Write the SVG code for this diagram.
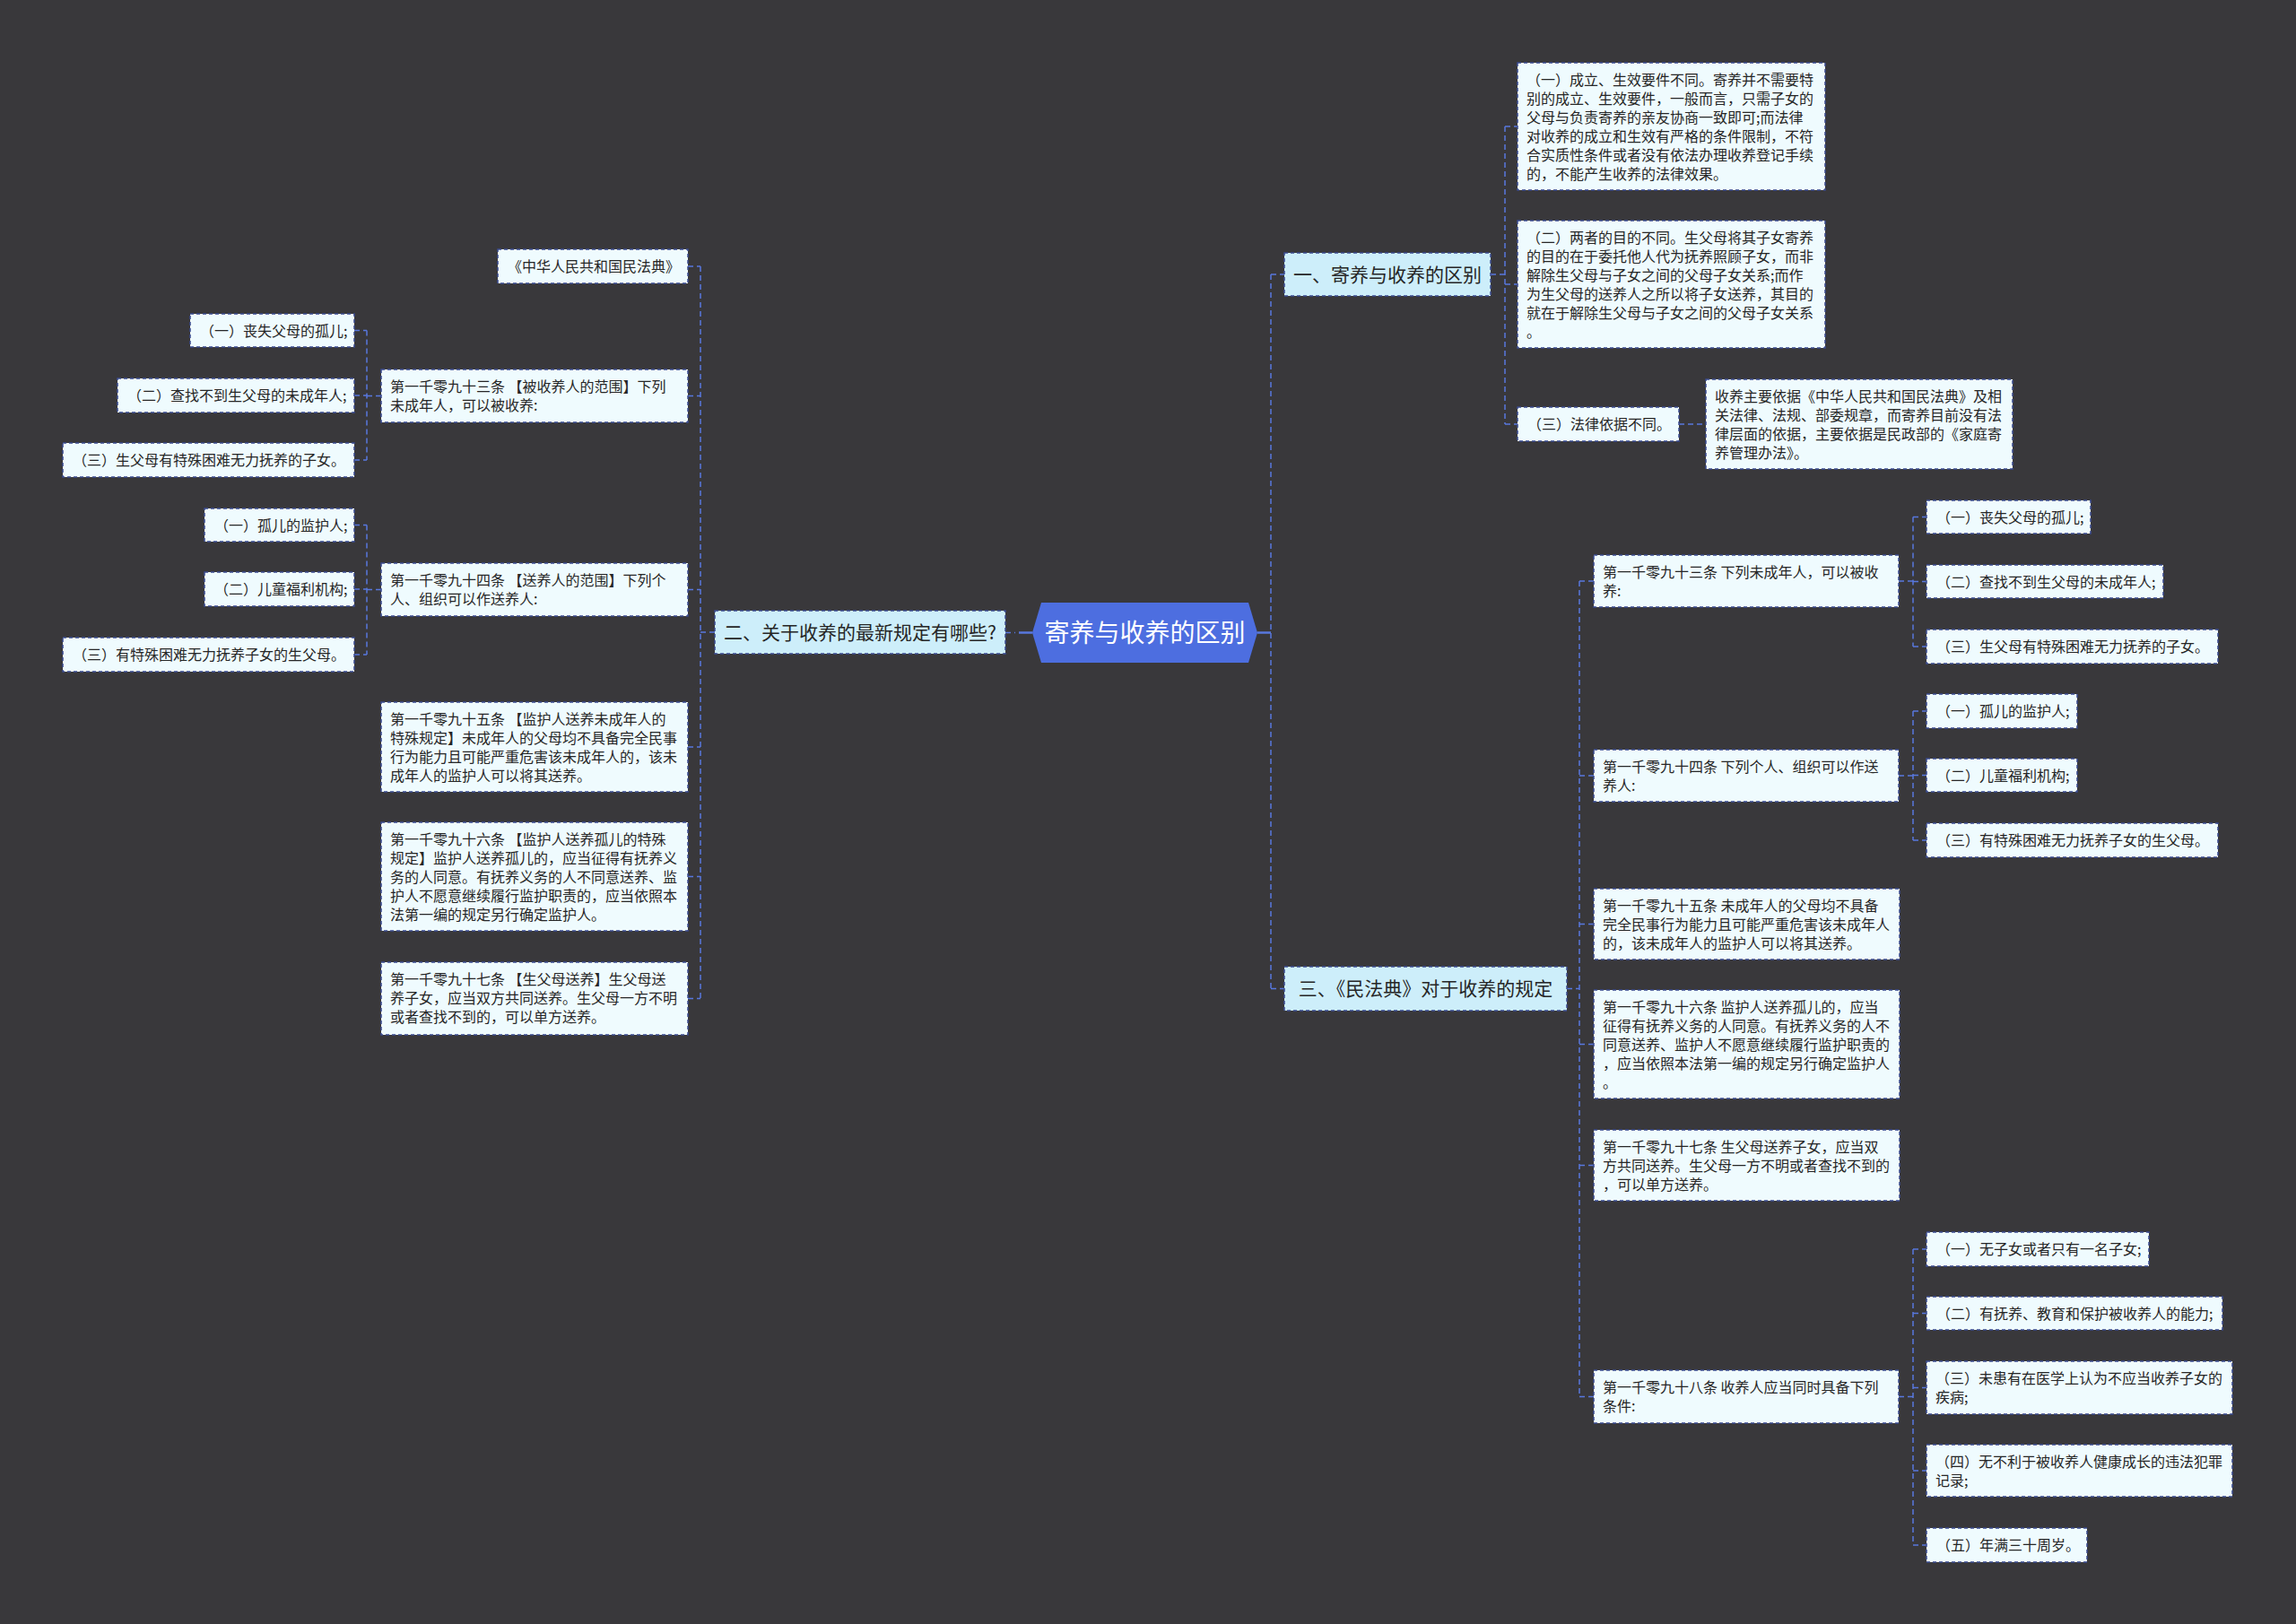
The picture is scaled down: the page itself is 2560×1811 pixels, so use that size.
<svg xmlns="http://www.w3.org/2000/svg" width="2560" height="1811" viewBox="0 0 2560 1811">
<style>
.n rect{fill:#effbfe;stroke:#3a4a8e;stroke-width:1.5;stroke-dasharray:4 3}
.l1 rect{fill:#cdeefa;stroke:#3a4a8e;stroke-width:1.5;stroke-dasharray:4 3}
text{font-family:"Noto Sans CJK SC","Noto Sans",sans-serif;fill:#262626}
.n text{font-size:16px}
.l1 text{font-size:21px;text-anchor:middle}
.c{fill:none;stroke:#5877de;stroke-width:1.5;stroke-dasharray:6 4}
.cs{fill:none;stroke:#5877de;stroke-width:2.5}
</style>
<rect x="0" y="0" width="2560" height="1811" fill="#39383b"/>

<g id="connectors">
<line class="c" x1="1121" y1="705.5" x2="1132" y2="705.5"/>
<line class="cs" x1="1136" y1="705.5" x2="1151" y2="705.5"/>
<line class="cs" x1="1402" y1="705.5" x2="1417" y2="705.5"/>
<path class="c" d="M797,705 H781 M781,297 V1113.5 M767,297 H781 M767,441.5 H781 M767,657.5 H781 M767,833 H781 M767,977.5 H781 M767,1113.5 H781"/>
<path class="c" d="M425,441.5 H409 M409,368.5 V513 M395,368.5 H409 M395,441 H409 M395,513 H409"/>
<path class="c" d="M425,657.5 H409 M409,585.5 V730 M395,585.5 H409 M395,657 H409 M395,730 H409"/>
<path class="c" d="M1417,306 V1102.5 M1417,306 H1432 M1417,1102.5 H1432"/>
<path class="c" d="M1662,306 H1678 M1678,141 V473 M1678,141 H1692 M1678,317 H1692 M1678,473 H1692"/>
<path class="c" d="M1872,473 H1902"/>
<path class="c" d="M1747,1102.5 H1761 M1761,648 V1557.5 M1761,648 H1777 M1761,865 H1777 M1761,1030.5 H1777 M1761,1164.5 H1777 M1761,1299.5 H1777 M1761,1557.5 H1777"/>
<path class="c" d="M2117,648 H2133 M2133,576.5 V721 M2133,576.5 H2148 M2133,648.5 H2148 M2133,721 H2148"/>
<path class="c" d="M2117,865 H2133 M2133,793 V937 M2133,793 H2148 M2133,864.5 H2148 M2133,937 H2148"/>
<path class="c" d="M2117,1557.5 H2133 M2133,1393 V1723 M2133,1393 H2148 M2133,1464.5 H2148 M2133,1547.5 H2148 M2133,1640 H2148 M2133,1723 H2148"/>
</g>

<g id="root">
<polygon points="1151,705.5 1161,672 1392,672 1402,705.5 1392,739 1161,739" fill="#4d6ee0"/>
<text x="1276.5" y="716" font-size="28" text-anchor="middle" style="fill:#ffffff">寄养与收养的区别</text>
</g>

<g id="n-er" class="l1"><rect x="797" y="681" width="324" height="48"/><text x="959" y="713">二、关于收养的最新规定有哪些?</text></g>
<g id="n-yi" class="l1"><rect x="1432" y="282" width="230" height="48"/><text x="1547" y="314">一、寄养与收养的区别</text></g>
<g id="n-san" class="l1"><rect x="1432" y="1078" width="315" height="49"/><text x="1589.5" y="1110">三、《民法典》对于收养的规定</text></g>

<g id="l-fd" class="n"><rect x="555" y="278" width="212" height="38"/><text x="566" y="303">《中华人民共和国民法典》</text></g>
<g id="l-1093" class="n"><rect x="425" y="412" width="342" height="59"/><text x="435"><tspan x="435" y="437">第一千零九十三条 【被收养人的范围】下列</tspan><tspan x="435" y="458">未成年人，可以被收养:</tspan></text></g>
<g id="l-1093-1" class="n"><rect x="212" y="350" width="183" height="37"/><text x="223" y="375">（一）丧失父母的孤儿;</text></g>
<g id="l-1093-2" class="n"><rect x="131" y="422" width="264" height="38"/><text x="142" y="447">（二）查找不到生父母的未成年人;</text></g>
<g id="l-1093-3" class="n"><rect x="70" y="494" width="325" height="38"/><text x="81" y="519">（三）生父母有特殊困难无力抚养的子女。</text></g>
<g id="l-1094" class="n"><rect x="425" y="628" width="342" height="59"/><text x="435"><tspan x="435" y="653">第一千零九十四条 【送养人的范围】下列个</tspan><tspan x="435" y="674">人、组织可以作送养人:</tspan></text></g>
<g id="l-1094-1" class="n"><rect x="228" y="567" width="167" height="37"/><text x="239" y="592">（一）孤儿的监护人;</text></g>
<g id="l-1094-2" class="n"><rect x="228" y="638" width="167" height="38"/><text x="239" y="663">（二）儿童福利机构;</text></g>
<g id="l-1094-3" class="n"><rect x="70" y="711" width="325" height="38"/><text x="81" y="736">（三）有特殊困难无力抚养子女的生父母。</text></g>
<g id="l-1095" class="n"><rect x="425" y="783" width="342" height="100"/><text x="435"><tspan x="435" y="808">第一千零九十五条 【监护人送养未成年人的</tspan><tspan x="435" y="829">特殊规定】未成年人的父母均不具备完全民事</tspan><tspan x="435" y="850">行为能力且可能严重危害该未成年人的，该未</tspan><tspan x="435" y="871">成年人的监护人可以将其送养。</tspan></text></g>
<g id="l-1096" class="n"><rect x="425" y="917" width="342" height="121"/><text x="435"><tspan x="435" y="942">第一千零九十六条 【监护人送养孤儿的特殊</tspan><tspan x="435" y="963">规定】监护人送养孤儿的，应当征得有抚养义</tspan><tspan x="435" y="984">务的人同意。有抚养义务的人不同意送养、监</tspan><tspan x="435" y="1005">护人不愿意继续履行监护职责的，应当依照本</tspan><tspan x="435" y="1026">法第一编的规定另行确定监护人。</tspan></text></g>
<g id="l-1097" class="n"><rect x="425" y="1073" width="342" height="81"/><text x="435"><tspan x="435" y="1098">第一千零九十七条 【生父母送养】生父母送</tspan><tspan x="435" y="1119">养子女，应当双方共同送养。生父母一方不明</tspan><tspan x="435" y="1140">或者查找不到的，可以单方送养。</tspan></text></g>

<g id="r-1" class="n"><rect x="1692" y="70" width="343" height="142"/><text x="1702"><tspan x="1702" y="95">（一）成立、生效要件不同。寄养并不需要特</tspan><tspan x="1702" y="116">别的成立、生效要件，一般而言，只需子女的</tspan><tspan x="1702" y="137">父母与负责寄养的亲友协商一致即可;而法律</tspan><tspan x="1702" y="158">对收养的成立和生效有严格的条件限制，不符</tspan><tspan x="1702" y="179">合实质性条件或者没有依法办理收养登记手续</tspan><tspan x="1702" y="200">的，不能产生收养的法律效果。</tspan></text></g>
<g id="r-2" class="n"><rect x="1692" y="246" width="343" height="142"/><text x="1702"><tspan x="1702" y="271">（二）两者的目的不同。生父母将其子女寄养</tspan><tspan x="1702" y="292">的目的在于委托他人代为抚养照顾子女，而非</tspan><tspan x="1702" y="313">解除生父母与子女之间的父母子女关系;而作</tspan><tspan x="1702" y="334">为生父母的送养人之所以将子女送养，其目的</tspan><tspan x="1702" y="355">就在于解除生父母与子女之间的父母子女关系</tspan><tspan x="1702" y="376">。</tspan></text></g>
<g id="r-3" class="n"><rect x="1692" y="454" width="180" height="38"/><text x="1703" y="479">（三）法律依据不同。</text></g>
<g id="r-3-1" class="n"><rect x="1902" y="423" width="342" height="100"/><text x="1912"><tspan x="1912" y="448">收养主要依据《中华人民共和国民法典》及相</tspan><tspan x="1912" y="469">关法律、法规、部委规章，而寄养目前没有法</tspan><tspan x="1912" y="490">律层面的依据，主要依据是民政部的《家庭寄</tspan><tspan x="1912" y="511">养管理办法》。</tspan></text></g>

<g id="r-1093" class="n"><rect x="1777" y="619" width="340" height="58"/><text x="1787"><tspan x="1787" y="644">第一千零九十三条 下列未成年人，可以被收</tspan><tspan x="1787" y="665">养:</tspan></text></g>
<g id="r-1093-1" class="n"><rect x="2148" y="558" width="183" height="37"/><text x="2159" y="583">（一）丧失父母的孤儿;</text></g>
<g id="r-1093-2" class="n"><rect x="2148" y="630" width="264" height="37"/><text x="2159" y="655">（二）查找不到生父母的未成年人;</text></g>
<g id="r-1093-3" class="n"><rect x="2148" y="702" width="325" height="38"/><text x="2159" y="727">（三）生父母有特殊困难无力抚养的子女。</text></g>
<g id="r-1094" class="n"><rect x="1777" y="836" width="340" height="58"/><text x="1787"><tspan x="1787" y="861">第一千零九十四条 下列个人、组织可以作送</tspan><tspan x="1787" y="882">养人:</tspan></text></g>
<g id="r-1094-1" class="n"><rect x="2148" y="774" width="168" height="38"/><text x="2159" y="799">（一）孤儿的监护人;</text></g>
<g id="r-1094-2" class="n"><rect x="2148" y="846" width="168" height="37"/><text x="2159" y="871">（二）儿童福利机构;</text></g>
<g id="r-1094-3" class="n"><rect x="2148" y="918" width="325" height="38"/><text x="2159" y="943">（三）有特殊困难无力抚养子女的生父母。</text></g>
<g id="r-1095" class="n"><rect x="1777" y="991" width="341" height="79"/><text x="1787"><tspan x="1787" y="1016">第一千零九十五条 未成年人的父母均不具备</tspan><tspan x="1787" y="1037">完全民事行为能力且可能严重危害该未成年人</tspan><tspan x="1787" y="1058">的，该未成年人的监护人可以将其送养。</tspan></text></g>
<g id="r-1096" class="n"><rect x="1777" y="1104" width="341" height="121"/><text x="1787"><tspan x="1787" y="1129">第一千零九十六条 监护人送养孤儿的，应当</tspan><tspan x="1787" y="1150">征得有抚养义务的人同意。有抚养义务的人不</tspan><tspan x="1787" y="1171">同意送养、监护人不愿意继续履行监护职责的</tspan><tspan x="1787" y="1192">，应当依照本法第一编的规定另行确定监护人</tspan><tspan x="1787" y="1213">。</tspan></text></g>
<g id="r-1097" class="n"><rect x="1777" y="1260" width="341" height="79"/><text x="1787"><tspan x="1787" y="1285">第一千零九十七条 生父母送养子女，应当双</tspan><tspan x="1787" y="1306">方共同送养。生父母一方不明或者查找不到的</tspan><tspan x="1787" y="1327">，可以单方送养。</tspan></text></g>
<g id="r-1098" class="n"><rect x="1777" y="1528" width="340" height="59"/><text x="1787"><tspan x="1787" y="1553">第一千零九十八条 收养人应当同时具备下列</tspan><tspan x="1787" y="1574">条件:</tspan></text></g>
<g id="r-1098-1" class="n"><rect x="2148" y="1374" width="248" height="38"/><text x="2159" y="1399">（一）无子女或者只有一名子女;</text></g>
<g id="r-1098-2" class="n"><rect x="2148" y="1446" width="330" height="37"/><text x="2159" y="1471">（二）有抚养、教育和保护被收养人的能力;</text></g>
<g id="r-1098-3" class="n"><rect x="2148" y="1518" width="341" height="59"/><text x="2158"><tspan x="2158" y="1543">（三）未患有在医学上认为不应当收养子女的</tspan><tspan x="2158" y="1564">疾病;</tspan></text></g>
<g id="r-1098-4" class="n"><rect x="2148" y="1611" width="341" height="58"/><text x="2158"><tspan x="2158" y="1636">（四）无不利于被收养人健康成长的违法犯罪</tspan><tspan x="2158" y="1657">记录;</tspan></text></g>
<g id="r-1098-5" class="n"><rect x="2148" y="1704" width="179" height="38"/><text x="2159" y="1729">（五）年满三十周岁。</text></g>
</svg>
